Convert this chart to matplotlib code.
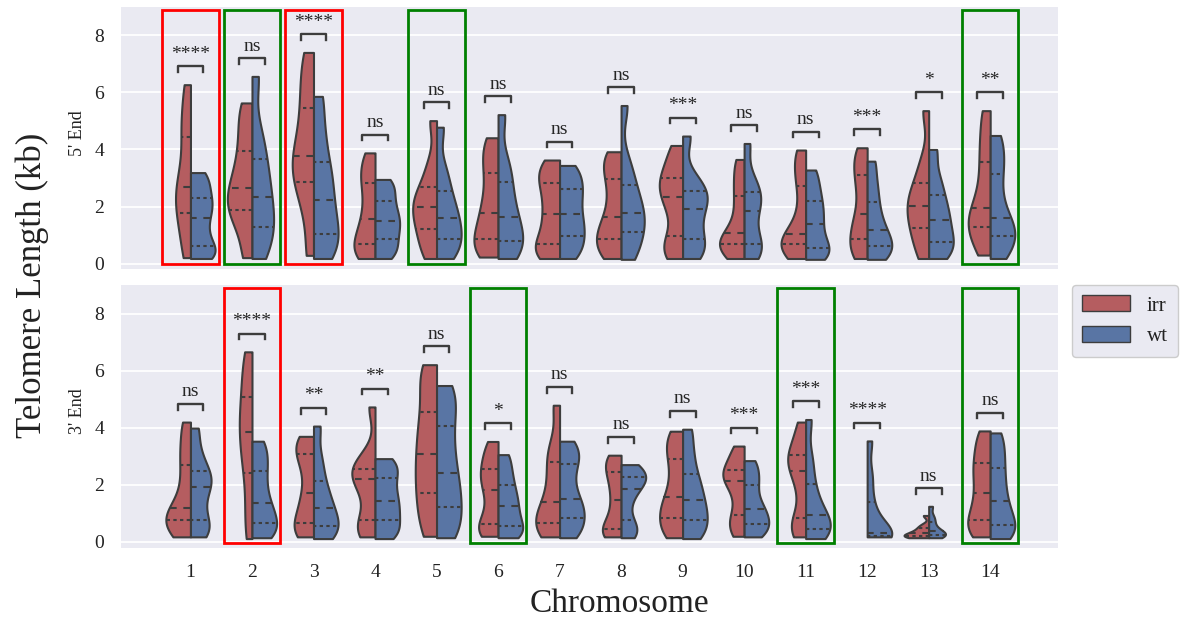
import numpy as np
import matplotlib
matplotlib.use("Agg")
import matplotlib.pyplot as plt
import matplotlib.colors as mcolors
from matplotlib.patches import Rectangle, Patch
import colorsys

# ---------------- data ----------------
chromosomes = [str(i) for i in range(1, 15)]
groups = ["irr", "wt"]

five_irr = [
    [0.21, 1.10, 1.79, 2.30, 2.68, 3.40, 4.44, 5.20, 6.27],
    [0.21, 1.30, 1.87, 2.20, 2.66, 3.20, 3.94, 4.80, 5.63],
    [0.29, 1.90, 2.86, 3.30, 3.78, 4.50, 5.44, 6.40, 7.40],
    [0.18, 0.40, 0.68, 1.10, 1.55, 2.20, 2.84, 3.30, 3.88],
    [0.18, 0.70, 1.23, 1.60, 2.00, 2.30, 2.70, 3.50, 5.01],
    [0.23, 0.50, 0.85, 1.30, 1.79, 2.40, 3.16, 3.80, 4.41],
    [0.18, 0.40, 0.70, 1.20, 1.74, 2.30, 2.84, 3.20, 3.63],
    [0.18, 0.50, 0.85, 1.20, 1.62, 2.30, 2.98, 3.50, 3.92],
    [0.18, 0.50, 0.97, 1.80, 2.32, 2.70, 3.01, 3.50, 4.14],
    [0.18, 0.45, 0.67, 0.85, 1.06, 1.70, 2.37, 3.00, 3.65],
    [0.18, 0.45, 0.68, 0.85, 1.03, 1.80, 2.72, 3.40, 3.98],
    [0.18, 0.50, 0.85, 1.30, 1.73, 2.50, 3.09, 3.60, 4.06],
    [0.18, 0.80, 1.26, 1.70, 2.02, 2.40, 2.81, 3.60, 5.36],
    [0.30, 0.90, 1.30, 1.60, 1.96, 2.70, 3.56, 4.40, 5.36],
]
five_wt = [
    [0.18, 0.35, 0.60, 1.10, 1.59, 2.00, 2.31, 2.80, 3.19],
    [0.18, 0.80, 1.28, 1.80, 2.33, 3.00, 3.67, 4.60, 6.56],
    [0.18, 0.60, 1.05, 1.60, 2.22, 2.90, 3.56, 4.60, 5.86],
    [0.18, 0.50, 0.85, 1.20, 1.49, 1.80, 2.18, 2.60, 2.95],
    [0.18, 0.50, 0.88, 1.20, 1.61, 2.00, 2.56, 3.30, 4.78],
    [0.18, 0.45, 0.81, 1.20, 1.62, 2.20, 2.87, 3.60, 5.22],
    [0.18, 0.60, 0.97, 1.35, 1.73, 2.20, 2.60, 3.00, 3.44],
    [0.15, 0.60, 1.11, 1.45, 1.79, 2.20, 2.75, 3.50, 5.54],
    [0.18, 0.50, 0.85, 1.40, 1.93, 2.30, 2.54, 3.00, 4.47],
    [0.18, 0.45, 0.70, 1.20, 1.86, 2.20, 2.52, 3.00, 4.21],
    [0.15, 0.35, 0.56, 0.95, 1.40, 1.80, 2.21, 2.70, 3.28],
    [0.15, 0.35, 0.60, 0.85, 1.17, 1.60, 2.16, 2.80, 3.59],
    [0.18, 0.45, 0.76, 1.10, 1.53, 1.90, 2.39, 3.00, 4.00],
    [0.18, 0.60, 0.97, 1.25, 1.60, 2.30, 3.13, 3.80, 4.49],
]
three_irr = [
    [0.18, 0.45, 0.76, 0.95, 1.19, 1.90, 2.69, 3.40, 4.20],
    [0.12, 1.20, 2.43, 3.20, 3.85, 4.40, 5.08, 5.90, 6.66],
    [0.18, 0.40, 0.68, 1.20, 1.72, 2.50, 3.07, 3.40, 3.70],
    [0.18, 0.45, 0.76, 1.60, 2.20, 2.40, 2.57, 3.00, 4.73],
    [0.20, 1.00, 1.73, 2.40, 3.07, 3.80, 4.55, 5.60, 6.21],
    [0.20, 0.40, 0.64, 1.20, 1.81, 2.20, 2.57, 3.00, 3.52],
    [0.18, 0.40, 0.68, 1.00, 1.40, 2.10, 2.80, 3.40, 4.79],
    [0.18, 0.30, 0.44, 0.90, 1.46, 2.00, 2.45, 2.80, 3.04],
    [0.15, 0.45, 0.85, 1.20, 1.56, 2.20, 2.89, 3.40, 3.88],
    [0.20, 0.60, 0.96, 1.60, 2.13, 2.30, 2.51, 2.90, 3.36],
    [0.18, 0.50, 0.85, 1.80, 2.48, 2.80, 3.04, 3.50, 4.20],
    None,
    [0.15, 0.18, 0.20, 0.25, 0.30, 0.38, 0.48, 0.60, 0.93],
    [0.18, 0.45, 0.76, 1.20, 1.73, 2.30, 2.75, 3.30, 3.89],
]
three_wt = [
    [0.18, 0.45, 0.78, 1.40, 1.93, 2.20, 2.49, 3.10, 3.99],
    [0.15, 0.35, 0.67, 1.00, 1.37, 1.90, 2.48, 3.00, 3.53],
    [0.12, 0.30, 0.56, 0.85, 1.20, 1.60, 2.13, 2.90, 4.06],
    [0.12, 0.40, 0.76, 1.10, 1.44, 1.80, 2.24, 2.60, 2.92],
    [0.15, 0.60, 1.23, 1.80, 2.42, 3.20, 4.06, 4.90, 5.48],
    [0.15, 0.30, 0.56, 0.90, 1.26, 1.60, 2.01, 2.50, 3.06],
    [0.15, 0.50, 0.85, 1.20, 1.52, 2.10, 2.72, 3.10, 3.53],
    [0.15, 0.40, 0.76, 1.40, 1.87, 2.10, 2.28, 2.50, 2.71],
    [0.12, 0.40, 0.76, 1.10, 1.46, 1.90, 2.37, 3.10, 3.95],
    [0.18, 0.40, 0.64, 0.90, 1.14, 1.50, 1.99, 2.40, 2.85],
    [0.12, 0.30, 0.47, 0.70, 0.96, 1.40, 2.02, 2.90, 4.29],
    [0.18, 0.20, 0.22, 0.26, 0.30, 0.80, 1.40, 2.30, 3.54],
    [0.15, 0.20, 0.26, 0.30, 0.37, 0.50, 0.70, 0.90, 1.25],
    [0.12, 0.35, 0.58, 1.00, 1.44, 2.00, 2.59, 3.20, 3.82],
]

five_sig = ["****", "ns", "****", "ns", "ns", "ns", "ns", "ns", "***", "ns", "ns", "***", "*", "**"]
three_sig = ["ns", "****", "**", "**", "ns", "*", "ns", "ns", "ns", "***", "***", "****", "ns", "ns"]

five_red_boxes = ["1", "3"]
five_green_boxes = ["2", "5", "14"]
three_red_boxes = ["2"]
three_green_boxes = ["6", "11", "14"]

yticks = [0, 2, 4, 6, 8]

# ---------------- style ----------------
FONT = ["Liberation Serif", "DejaVu Serif"]
plt.rcParams["font.family"] = FONT


def desat(c, s=0.75):
    r, g, b = mcolors.to_rgb(c)
    h, l, sat = colorsys.rgb_to_hls(r, g, b)
    return colorsys.hls_to_rgb(h, l, sat * s)


colors = {"irr": desat("#C44E52"), "wt": desat("#4C72B0")}
EDGE = "#3d3d3d"
BG = "#EAEAF2"


def kde(values, bw_adjust=0.6, n=200):
    x = np.asarray(values, float)
    bw = x.std(ddof=1) * len(x) ** (-0.2) * bw_adjust
    grid = np.linspace(x.min(), x.max(), n)
    dens = np.exp(-0.5 * ((grid[:, None] - x[None, :]) / bw) ** 2).sum(1)
    dens /= len(x) * bw * np.sqrt(2 * np.pi)
    return grid, dens


def draw_panel(ax, irr, wt, sig, red_boxes, green_boxes, ylabel):
    ax.set_facecolor(BG)
    for s in ax.spines.values():
        s.set_visible(False)
    ax.grid(axis="y", color="white", lw=1.3, zorder=0)
    ax.grid(axis="x", visible=False)
    ax.set_axisbelow(True)

    for i, chrom in enumerate(chromosomes):
        halves = []
        for side, name, data in ((-1, "irr", irr[i]), (1, "wt", wt[i])):
            if data is None:
                continue
            g, d = kde(data)
            halves.append((side, name, data, g, d))
        dmax = max(h[4].max() for h in halves)
        for side, name, data, g, d in halves:
            w = d / dmax * 0.4
            ax.fill_betweenx(g, i, i + side * w, facecolor=colors[name],
                             edgecolor=EDGE, linewidth=1.5, zorder=2)
            q1, med, q3 = np.percentile(data, [25, 50, 75])
            for q, dash in ((q1, (1.6, 1.6)), (med, (3.2, 3.2)), (q3, (1.6, 1.6))):
                wq = np.interp(q, g, w)
                ax.plot([i, i + side * wq], [q, q], color=EDGE, lw=1.5,
                        dashes=dash, zorder=3, dash_capstyle="butt")
        top = max(max(h[2]) for h in halves)
        y = top + 0.64
        ax.plot([i - 0.21, i - 0.21, i + 0.21, i + 0.21],
                [y - 0.2, y, y, y - 0.2], color=EDGE, lw=1.7, zorder=3)
        ax.annotate(sig[i], (i, y), xytext=(0, 2.5), textcoords="offset points",
                    ha="center", va="bottom", fontsize=14, color="#262626")

        if chrom in red_boxes or chrom in green_boxes:
            ec = "#ff0000" if chrom in red_boxes else "#008000"
            ax.add_patch(Rectangle((i - 0.46, -0.02), 0.92, 8.92, fill=False,
                                   edgecolor=ec, lw=2.0, zorder=4))

    ax.set_xlim(-1.13, 14.11)
    ax.set_ylim(-0.2, 9.0)
    ax.set_yticks(yticks)
    ax.set_yticklabels([str(t) for t in yticks])
    ax.set_xticks(range(len(chromosomes)))
    ax.tick_params(axis="both", length=0, pad=12, labelsize=14, labelcolor="#222222")
    ax.set_ylabel(ylabel, fontsize=13, color="#222222")
    ax.yaxis.set_label_coords(-0.037, 0.52)


fig = plt.figure(figsize=(11.8, 6.2), dpi=100)
ax_top = fig.add_axes([0.1025, 0.5656, 0.7945, 0.4235])
ax_bot = fig.add_axes([0.1025, 0.1166, 0.7945, 0.4237])

draw_panel(ax_top, five_irr, five_wt, five_sig, five_red_boxes, five_green_boxes, "5' End")
draw_panel(ax_bot, three_irr, three_wt, three_sig, three_red_boxes, three_green_boxes, "3' End")

ax_top.set_xticklabels([])
ax_bot.set_xticklabels(chromosomes)

fig.text(0.027, 0.54, "Telomere Length (kb)", rotation=90, fontsize=25,
         ha="center", va="center", color="#222222")
fig.text(0.5246, 0.027, "Chromosome", fontsize=24, ha="center", va="center",
         color="#222222")

handles = [Patch(facecolor=colors[g], edgecolor=EDGE, lw=1.0) for g in groups]
leg = fig.legend(handles, groups, loc="upper left", bbox_to_anchor=(0.9085, 0.5403),
                 borderaxespad=0, fontsize=15, handlelength=2.3, handleheight=0.8,
                 frameon=True, facecolor=BG, edgecolor="#cccccc", framealpha=1,
                 borderpad=0.5, handletextpad=0.8, labelspacing=0.5)
for t in leg.get_texts():
    t.set_color("#222222")

fig.savefig("out.png", dpi=100)
